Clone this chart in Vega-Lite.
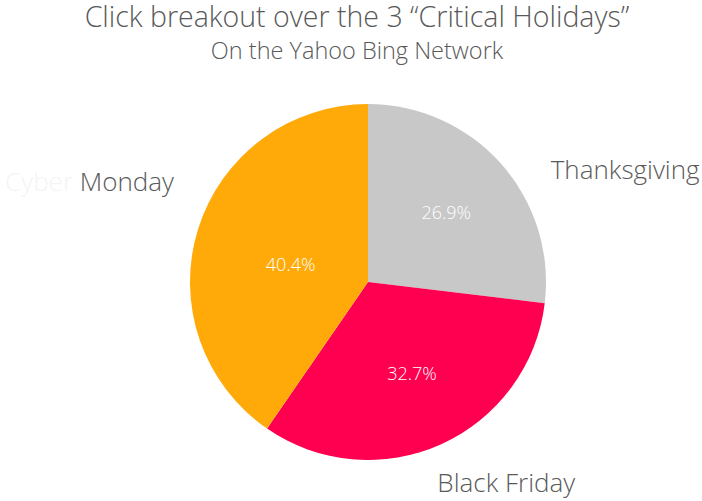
{
  "$schema": "https://vega.github.io/schema/vega-lite/v6.json",
  "width": 702,
  "height": 501,
  "autosize": {"type": "fit", "contains": "padding"},
  "padding": {"left": 22, "right": 0, "top": 4, "bottom": 0},
  "background": "white",
  "config": {"view": {"stroke": null}, "font": "Open Sans"},
  "title": {
    "text": "Click breakout over the 3 “Critical Holidays”",
    "subtitle": "On the Yahoo Bing Network",
    "anchor": "middle",
    "dx": -11,
    "offset": 0,
    "font": "Open Sans",
    "fontSize": 28.5,
    "fontWeight": 300,
    "color": "#595959",
    "subtitleFont": "Open Sans",
    "subtitleFontSize": 23.5,
    "subtitleFontWeight": 300,
    "subtitleColor": "#595959",
    "subtitlePadding": 7
  },
  "data": {
    "values": [
      {"category": "Thanksgiving", "share": 0.269, "seq": 1},
      {"category": "Black Friday", "share": 0.327, "seq": 2},
      {"category": "Cyber Monday", "share": 0.404, "seq": 3}
    ]
  },
  "encoding": {
    "theta": {"field": "share", "type": "quantitative", "stack": true},
    "order": {"field": "seq", "type": "quantitative"}
  },
  "layer": [
    {
      "mark": {"type": "arc", "radius": 178},
      "encoding": {
        "color": {
          "field": "category",
          "type": "nominal",
          "scale": {
            "domain": ["Thanksgiving", "Black Friday", "Cyber Monday"],
            "range": ["#c8c8c8", "#ff0050", "#ffaa08"]
          },
          "legend": null
        }
      }
    },
    {
      "mark": {"type": "text", "radius": 102, "dx": 2, "fontSize": 18, "fontWeight": 300, "color": "white", "font": "Open Sans"},
      "encoding": {
        "text": {"condition": {"test": "datum.category !== 'Cyber Monday'", "field": "share", "format": ".1%"}, "value": ""}
      }
    },
    {
      "mark": {"type": "text", "radius": 81, "dy": 8, "fontSize": 18, "fontWeight": 300, "color": "white", "font": "Open Sans"},
      "encoding": {
        "text": {"condition": {"test": "datum.category === 'Cyber Monday'", "field": "share", "format": ".1%"}, "value": ""}
      }
    },
    {
      "mark": {"type": "text", "radius": 200, "dx": 182, "dy": 22, "align": "right", "fontSize": 26, "fontWeight": 300, "color": "#595959", "font": "Open Sans"},
      "encoding": {
        "text": {"condition": {"test": "datum.category === 'Thanksgiving'", "field": "category"}, "value": ""}
      }
    },
    {
      "mark": {"type": "text", "radius": 200, "dx": 56, "dy": 20, "fontSize": 26, "fontWeight": 300, "color": "#595959", "font": "Open Sans"},
      "encoding": {
        "text": {"condition": {"test": "datum.category === 'Black Friday'", "field": "category"}, "value": ""}
      }
    },
    {
      "mark": {"type": "text", "radius": 200, "dx": -3, "dy": -40, "align": "right", "fontSize": 26, "fontWeight": 300, "color": "#595959", "font": "Open Sans"},
      "encoding": {
        "text": {"condition": {"test": "datum.category === 'Cyber Monday'", "value": "Monday"}, "value": ""}
      }
    },
    {
      "mark": {"type": "text", "radius": 200, "dx": -104, "dy": -40, "align": "right", "fontSize": 26, "fontWeight": 300, "color": "#f4f4f4", "font": "Open Sans"},
      "encoding": {
        "text": {"condition": {"test": "datum.category === 'Cyber Monday'", "value": "Cyber"}, "value": ""}
      }
    }
  ]
}
